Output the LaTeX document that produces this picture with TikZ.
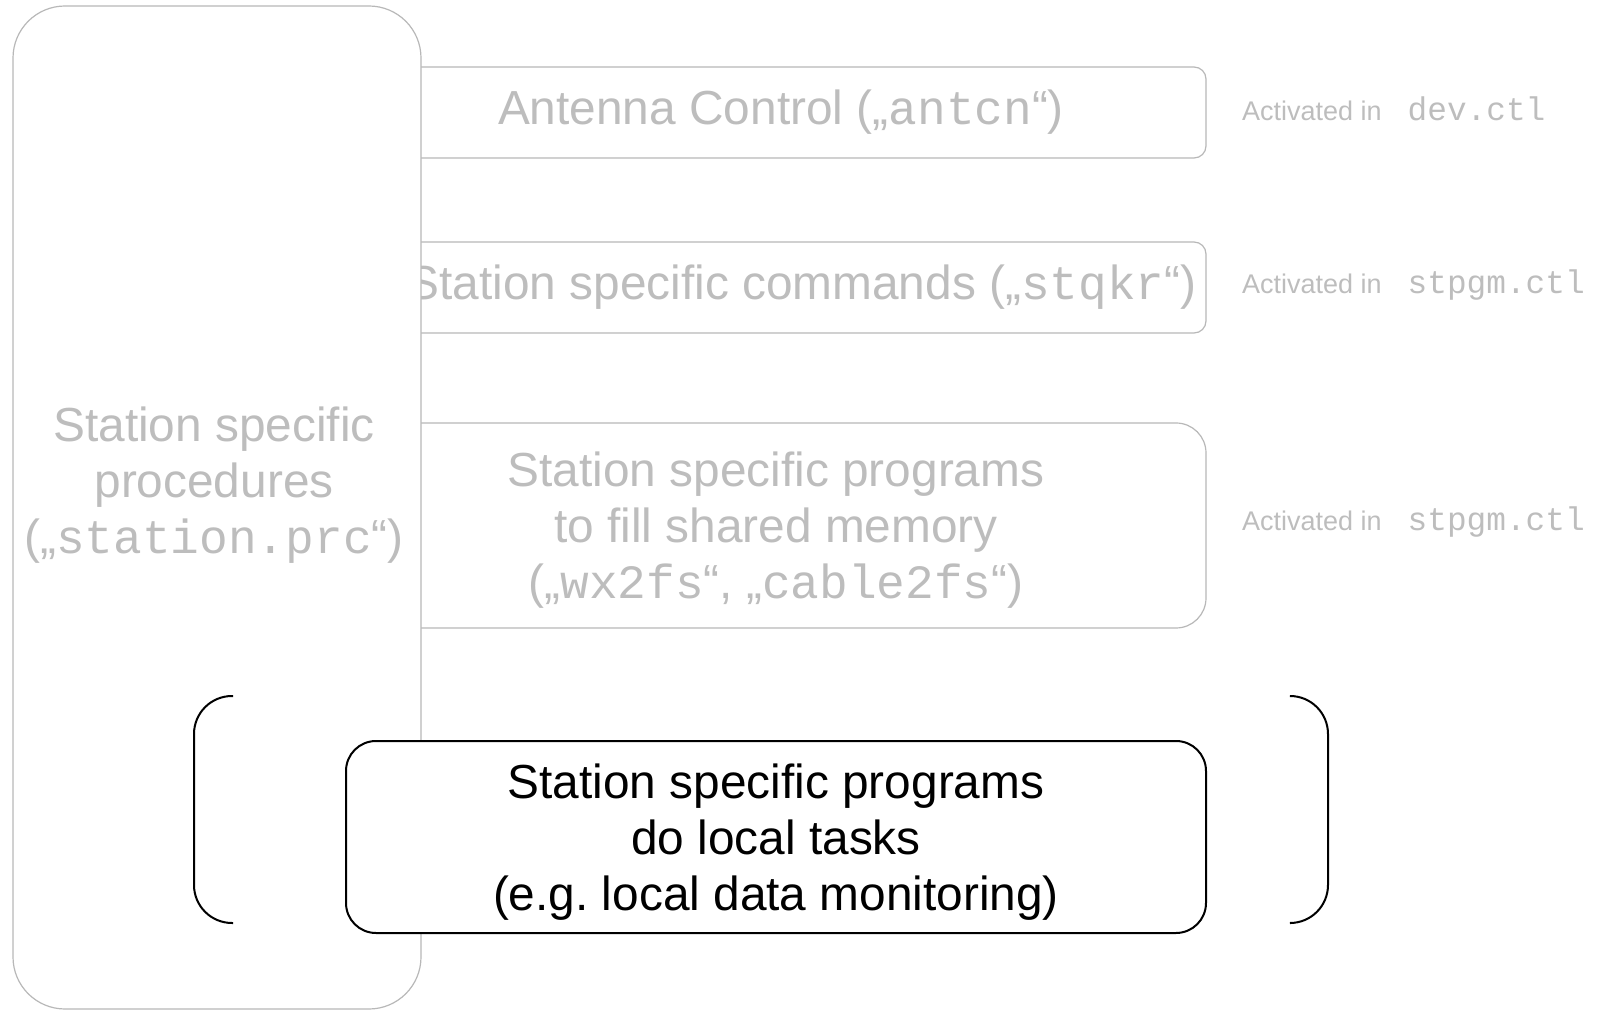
\documentclass[tikz,border=0pt]{standalone}
\usepackage{fontspec}
\setmainfont{Liberation Sans}
\setmonofont{Liberation Mono}
\usepackage{tikz}
\frenchspacing
\definecolor{fadetext}{gray}{0.74}
\definecolor{fadeline}{gray}{0.72}
\tikzset{
	big/.style={font=\fontsize{23.9}{28}\selectfont, align=center},
	fadebox/.style={draw=fadeline, line width=0.6pt, fill=white, text=fadetext, big},
	mainbox/.style={draw=black, line width=1pt, fill=white, rounded corners=15pt, big},
	bracket/.style={draw=black, line width=1pt, rounded corners=19pt},
	note/.style={anchor=west, text=fadetext, font=\fontsize{13.5}{16}\selectfont}
}
\newcommand{\actv}[1]{Activated in\hspace{13pt}{\ttfamily\fontsize{16.4}{18}\selectfont #1}}
\begin{document}
\begin{tikzpicture}[x=0.5pt, y=-0.5pt]
		\useasboundingbox (0,0) rectangle (1597,1010);
		\node[fadebox, rounded corners=6pt, minimum width=425pt, minimum height=45.5pt] (antcn) at (781,112.5) {Antenna Control („\texttt{antcn}“)};
		\node[fadebox, rounded corners=6pt, minimum width=404pt, minimum height=45.5pt] (stqkr) at (802,287.5) {Station specific commands („\texttt{stqkr}“)};
		\node[fadebox, rounded corners=15pt, minimum width=430pt, minimum height=102.5pt, text depth=0pt] (fill) at (776,525.5) {Station specific programs\\to fill shared memory\\(„\texttt{wx2fs}“, „\texttt{cable2fs}“)};
		\draw[draw=fadeline, line width=0.6pt, fill=white, rounded corners=26pt] (13,6) rectangle (421,1009);
		\node[big, text=fadetext] (procs) at (214,485) {Station specific\\procedures\\(„\texttt{station.prc}“)};
		\node[note] (devctl) at (1235,109) {\actv{dev.ctl}};
		\node[note] (stpgm1) at (1235,285) {\actv{stpgm.ctl}};
		\node[note] (stpgm2) at (1235,522) {\actv{stpgm.ctl}};
		\node[mainbox, minimum width=430pt, minimum height=96pt, text depth=0pt] (local) at (776,837) {Station specific programs\\do local tasks\\(e.g. local data monitoring)};
		\draw[bracket] (233,696) -- (194,696) -- (194,923) -- (233,923);
		\draw[bracket] (1291,696) -- (1328,696) -- (1328,923) -- (1291,923);
	\end{tikzpicture}
\end{document}
